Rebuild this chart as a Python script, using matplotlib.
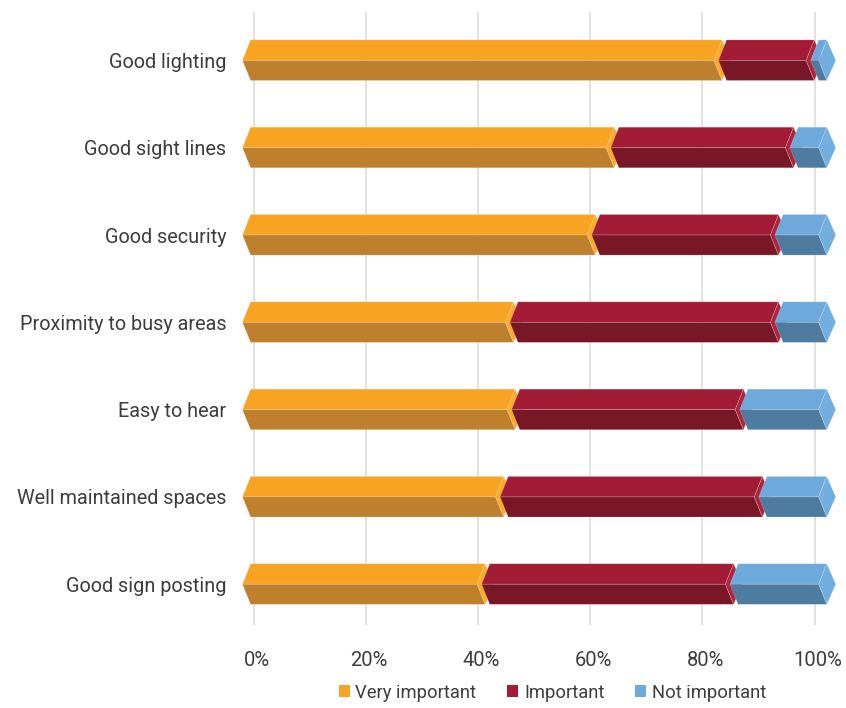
import matplotlib.pyplot as plt
from matplotlib.patches import Polygon, Patch
from matplotlib.transforms import ScaledTranslation

plt.rcParams['font.family'] = ['Roboto', 'DejaVu Sans']

categories = ["Good lighting", "Good sight lines", "Good security",
              "Proximity to busy areas", "Easy to hear",
              "Well maintained spaces", "Good sign posting"]
very_important = [82.6, 63.9, 60.6, 46.4, 46.7, 44.7, 41.5]
important = [16.0, 31.1, 31.8, 46.0, 39.6, 44.9, 43.1]
not_important = [1.4, 5.0, 7.6, 7.6, 13.7, 10.4, 15.4]
series_names = ["Very important", "Important", "Not important"]
x_ticks = [0, 20, 40, 60, 80, 100]

# (top face, front face, end cap) for each series
colours = [("#F8A322", "#BE802C", "#FBAA2A"),
           ("#A31C36", "#7A1726", "#B0243F"),
           ("#6DAADB", "#4E7BA0", "#72AEDE")]
text_col = "#3d3d3d"

# prism geometry in data units
bar_x0, bar_k = -0.53, 1.027   # depth offset / stretch of the 3D bars
shift = 1.45                   # front ridge sits left of the top/bottom ridges
tip = 1.6                      # back ridge pokes out on the right cap
h_up, h_dn = 0.235, 0.23
gap = 0.8

fig = plt.figure(figsize=(8.46, 7.08), dpi=100)
ax = fig.add_axes([0.2732, 0.1172, 0.7229, 0.8658])
ax.set_xlim(-4, 105)
ax.set_ylim(6.467, -0.554)


def prism(a, b, y, cols, last):
    top, front, cap = cols
    a = bar_x0 + a * bar_k
    b = bar_x0 + b * bar_k
    e = b if last else b - gap
    faces = [
        ([(a, y - h_up), (e, y - h_up), (e - shift, y), (a - shift, y)], top),
        ([(a - shift, y), (e - shift, y), (e, y + h_dn), (a, y + h_dn)], front),
        ([(e, y - h_up), (e + tip, y), (e, y + h_dn), (e - shift, y)], cap),
    ]
    for pts, c in faces:
        ax.add_patch(Polygon(pts, closed=True, facecolor=c,
                             edgecolor=(1, 1, 1, 0.25), linewidth=0.5,
                             zorder=3))


series = [very_important, important, not_important]
for i in range(len(categories)):
    left = 0
    for j, vals in enumerate(series):
        prism(left, left + vals[i], i, colours[j], j == len(series) - 1)
        left += vals[i]

ax.set_xticks(x_ticks)
ax.set_xticklabels([f"{t}%" for t in x_ticks], fontsize=14.5, color=text_col)
ax.set_yticks(range(len(categories)))
ax.set_yticklabels(categories, fontsize=14.3, color=text_col)
ax.tick_params(axis='both', length=0)
ax.tick_params(axis='x', pad=19)
ax.tick_params(axis='y', pad=3.6)
# percent labels sit a touch right of their gridlines
nudge = ScaledTranslation(3 / 100, 0, fig.dpi_scale_trans)
for lbl in ax.get_xticklabels():
    lbl.set_transform(lbl.get_transform() + nudge)
ax.grid(axis='x', color="#D9D9D9", linewidth=1.1, zorder=0)
ax.set_axisbelow(True)
for s in ax.spines.values():
    s.set_visible(False)

handles = [Patch(facecolor=c[0], label=n) for c, n in zip(colours, series_names)]
fig.legend(handles=handles, loc='center', bbox_to_anchor=(0.653, 0.0215),
           ncol=3, frameon=False, fontsize=13.2, handlelength=0.6,
           handleheight=0.6, handletextpad=0.3, columnspacing=1.7,
           labelcolor=text_col)

fig.savefig("out.png", dpi=100)
